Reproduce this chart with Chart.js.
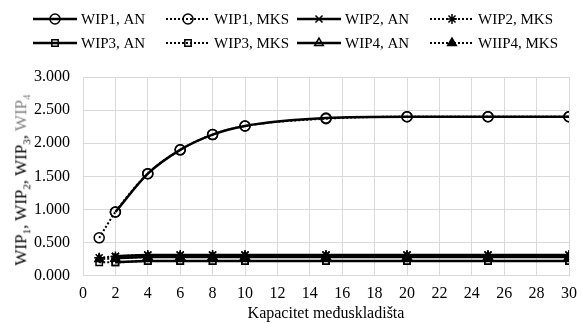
<!DOCTYPE html>
<html>
<head>
<meta charset="utf-8">
<script src="https://cdn.jsdelivr.net/npm/chart.js@4/dist/chart.umd.min.js"></script>
<style>
  body { margin: 0; background: #fff; }
  #wrap { position: relative; width: 581px; height: 323px; }
  #yTitle {
    position: absolute; left: 22px; top: 180px;
    transform: translate(-50%, -50%) rotate(-90deg);
    white-space: nowrap;
    font-family: "Liberation Serif", serif; font-size: 17px; color: #000;
  }
  #yTitle sub { font-size: 11px; }
  #yTitle .g { color: #808080; }
</style>
</head>
<body>
<div id="wrap">
  <canvas id="wipChart" width="581" height="323"></canvas>
  <div id="yTitle">WIP<sub>1</sub>, WIP<sub>2</sub>, WIP<sub>3</sub>, <span class="g">WIP<sub>4</sub></span></div>
</div>
<script>
// Kapacitet međuskladišta (x)
const capacity = [1, 2, 4, 6, 8, 10, 15, 20, 25, 30];
const xTicks = [0, 2, 4, 6, 8, 10, 12, 14, 16, 18, 20, 22, 24, 26, 28, 30];
const yTicks = [0, 0.5, 1, 1.5, 2, 2.5, 3];

// vrijednosti WIP (AN nema točku za kapacitet 1)
const wip1AN  = [null, 0.96, 1.54, 1.90, 2.13, 2.26, 2.38, 2.40, 2.40, 2.40];
const wip1MKS = [0.57, 0.96, 1.54, 1.90, 2.13, 2.26, 2.37, 2.40, 2.40, 2.40];
const wip2AN  = [null, 0.29, 0.31, 0.31, 0.31, 0.31, 0.31, 0.31, 0.31, 0.31];
const wip2MKS = [0.27, 0.29, 0.31, 0.31, 0.31, 0.31, 0.31, 0.31, 0.31, 0.31];
const wip3AN  = [null, 0.20, 0.22, 0.22, 0.22, 0.22, 0.22, 0.22, 0.22, 0.22];
const wip3MKS = [0.20, 0.20, 0.22, 0.22, 0.22, 0.22, 0.22, 0.22, 0.22, 0.22];
const wip4AN  = [null, 0.26, 0.28, 0.28, 0.28, 0.28, 0.28, 0.28, 0.28, 0.28];
const wip4MKS = [0.25, 0.26, 0.28, 0.28, 0.28, 0.28, 0.28, 0.28, 0.28, 0.28];

const toPoints = arr => capacity.map((x, i) => ({ x: x, y: arr[i] })).filter(p => p.y !== null);

function series(label, data, style, dotted, filled) {
    return {
        label: label,
        data: toPoints(data),
        borderColor: '#000',
        borderWidth: dotted ? 2 : 2.5,
        borderDash: dotted ? [2, 2] : [],
        pointStyle: style,
        pointRadius: style === 'rect' ? 4.5 : 5,
        pointBorderWidth: 1.5,
        pointBorderColor: '#000',
        pointBackgroundColor: filled ? '#000' : 'rgba(0,0,0,0)',
        cubicInterpolationMode: 'monotone',
        fill: false
    };
}

const datasets = [
    series('WIP1, AN', wip1AN, 'circle', false, false),
    series('WIP1, MKS', wip1MKS, 'circle', true, false),
    series('WIP2, AN', wip2AN, 'crossRot', false, false),
    series('WIP2, MKS', wip2MKS, 'star', true, false),
    series('WIP3, AN', wip3AN, 'rect', false, false),
    series('WIP3, MKS', wip3MKS, 'rect', true, false),
    series('WIP4, AN', wip4AN, 'triangle', false, false),
    series('WIIP4, MKS', wip4MKS, 'triangle', true, true)
];

// legenda: linija + marker, 4 stupca x 2 reda
const legendPlugin = {
    id: 'lineLegend',
    afterDraw(chart) {
        const ctx = chart.ctx;
        const colX = [33, 166, 297, 430];
        const rowY = [19, 43];
        ctx.save();
        chart.data.datasets.forEach((ds, i) => {
            const x0 = colX[i % 4];
            const y = rowY[Math.floor(i / 4)];
            const len = 44;
            ctx.strokeStyle = '#000';
            ctx.lineWidth = ds.borderWidth;
            ctx.setLineDash(ds.borderDash);
            ctx.beginPath();
            ctx.moveTo(x0, y);
            ctx.lineTo(x0 + len, y);
            ctx.stroke();
            ctx.setLineDash([]);
            ctx.fillStyle = ds.pointBackgroundColor;
            ctx.lineWidth = ds.pointBorderWidth;
            Chart.helpers.drawPoint(ctx, {
                pointStyle: ds.pointStyle, radius: ds.pointRadius, rotation: 0, borderWidth: ds.pointBorderWidth
            }, x0 + len / 2, y);
            ctx.fillStyle = '#000';
            ctx.font = '15px "Liberation Serif"';
            ctx.textBaseline = 'middle';
            ctx.fillText(ds.label, x0 + len + 4, y + 1);
        });
        ctx.restore();
    }
};

const ctx = document.getElementById('wipChart').getContext('2d');
const myChart = new Chart(ctx, {
    type: 'line',
    data: { datasets: datasets },
    options: {
        responsive: false,
        animation: false,
        layout: { padding: { top: 77, right: 12, left: 0, bottom: 0 } },
        plugins: { legend: { display: false }, tooltip: { enabled: false } },
        scales: {
            x: {
                type: 'linear', min: 0, max: 30,
                afterBuildTicks: s => { s.ticks = xTicks.map(v => ({ value: v })); },
                afterFit: s => { s.paddingLeft = 0; s.paddingRight = 0; },
                grid: { color: '#d9d9d9', tickLength: 0, drawTicks: false },
                border: { color: '#d9d9d9' },
                ticks: { color: '#000', padding: 9, font: { family: 'Liberation Serif', size: 16 } },
                title: {
                    display: true, text: 'Kapacitet međuskladišta', color: '#000',
                    font: { family: 'Liberation Serif', size: 16 }, padding: { top: -9, bottom: 0 }
                }
            },
            y: {
                min: 0, max: 3,
                afterBuildTicks: s => { s.ticks = yTicks.map(v => ({ value: v })); },
                afterFit: s => { s.width = 83; },
                grid: { color: '#d9d9d9', drawTicks: false },
                border: { color: '#d9d9d9' },
                ticks: {
                    color: '#000', padding: 13, font: { family: 'Liberation Serif', size: 16 },
                    callback: v => v.toFixed(3)
                }
            }
        }
    },
    plugins: [legendPlugin]
});
</script>
</body>
</html>
